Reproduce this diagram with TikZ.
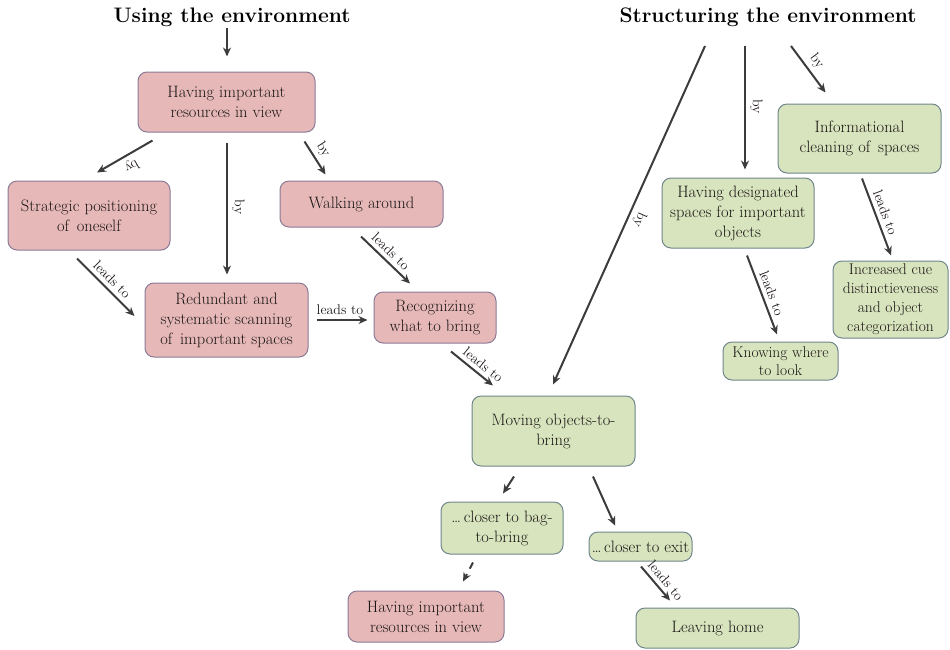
\documentclass[tikz,border=0pt]{standalone}
\usepackage{fontspec}
\usetikzlibrary{arrows.meta,calc}
\definecolor{pinkfill}{RGB}{230,185,184}
\definecolor{pinkdraw}{RGB}{140,122,150}
\definecolor{greenfill}{RGB}{215,228,189}
\definecolor{greendraw}{RGB}{112,134,140}
\definecolor{arrowcol}{RGB}{60,60,60}
\definecolor{txt}{RGB}{28,22,22}
\tikzset{
 box/.style={rounded corners=9pt, line width=1pt, align=center, inner sep=2pt, text=txt, font=\fontsize{16.5}{20}\selectfont},
 pinkbox/.style={box, fill=pinkfill, draw=pinkdraw},
 greenbox/.style={box, fill=greenfill, draw=greendraw},
 arr/.style={draw=arrowcol, line width=2pt, -{Stealth[length=9pt,width=8pt]}},
 lab/.style={font=\fontsize{14}{16}\selectfont, text=txt, sloped, allow upside down, above=3pt, inner sep=1pt},
 maintitle/.style={font=\bfseries\fontsize{21}{25}\selectfont, text=black}
}
\begin{document}
\begin{tikzpicture}[x=1pt,y=-1pt]
\useasboundingbox (0,0) rectangle (950,649);
% titles
\node[maintitle] (t1) at (232,17) {Using the environment};
\node[maintitle] (t2) at (768,17) {Structuring the environment};
% pink boxes
\node[pinkbox, minimum width=177pt, minimum height=60pt] (top) at (226.5,102) {Having important\\resources in view};
\node[pinkbox, minimum width=162pt, minimum height=69pt] (strat) at (89,215.5) {Strategic positioning\\of\, oneself};
\node[pinkbox, minimum width=163pt, minimum height=46pt] (walk) at (361.5,204) {Walking around};
\node[pinkbox, minimum width=163pt, minimum height=74pt] (redund) at (226.5,320) {Redundant and\\systematic scanning\\of\, important spaces};
\node[pinkbox, minimum width=122pt, minimum height=51pt] (recog) at (435,317.5) {Recognizing\\what to bring};
\node[pinkbox, minimum width=156pt, minimum height=51pt] (top2) at (426,616.5) {Having important\\resources in view};
% green boxes
\node[greenbox, minimum width=163pt, minimum height=70pt] (moving) at (553.5,431) {Moving objects-to-\\bring};
\node[greenbox, minimum width=122pt, minimum height=52pt] (bag) at (502,528) {\dots\,closer to bag-\\to-bring};
\node[greenbox, minimum width=103pt, minimum height=29pt] (exit) at (640.5,546.5) {\dots\,closer to exit};
\node[greenbox, minimum width=163pt, minimum height=40pt] (leave) at (717.5,628) {Leaving home};
\node[greenbox, minimum width=163pt, minimum height=69pt] (info) at (859.5,138.5) {Informational\\cleaning of\, spaces};
\node[greenbox, minimum width=152pt, minimum height=70pt] (desig) at (738,213) {Having designated\\spaces for important\\objects};
\node[greenbox, minimum width=115pt, minimum height=77pt, font=\fontsize{15.5}{19}\selectfont] (incr) at (890.5,299.5) {Increased cue\\distinctieveness\\and object\\categorization};
\node[greenbox, minimum width=115pt, minimum height=38pt, font=\fontsize{15.5}{18}\selectfont] (know) at (780.5,361) {Knowing where\\to look};
% connectors
\draw[arr] ($(t1.center)+(-5,11)$) -- ($(top.north)+(0.5,-15)$);
\draw[arr] ($(top.south west)+(15,8)$) -- node[lab,pos=.48]{by} ($(strat.north)+(8,-8)$);
\draw[arr] ($(top.south)+(0.5,10)$) -- node[lab,pos=.49]{by} ($(redund.north)+(0.5,-8)$);
\draw[arr] ($(top.south east)+(-11,9)$) -- node[lab,pos=.43]{by} ($(walk.north west)+(46,-6)$);
\draw[arr] ($(strat.south)+(-12,8)$) -- node[lab,pos=.49]{leads to} ($(redund.west)+(-10,-4)$);
\draw[arr] ($(walk.south)+(-0.5,9)$) -- node[lab,pos=.47]{leads to} ($(recog.north)+(-25,-8)$);
\draw[arr] ($(redund.east)+(8,0)$) -- node[lab,pos=.46]{leads to} ($(recog.west)+(-6,2.5)$);
\draw[arr] ($(recog.south)+(16,8)$) -- node[lab,pos=.62]{leads to} ($(moving.north)+(-60.5,-10)$);
\draw[arr] ($(t2.center)+(-63,29)$) -- node[lab,pos=.5]{by} ($(moving.north)+(-0.5,-11)$);
\draw[arr] ($(t2.center)+(-23,29)$) -- node[lab,pos=.49]{by} ($(desig.north)+(7,-8)$);
\draw[arr] ($(t2.center)+(23,29)$) -- node[lab,pos=.48]{by} ($(info.north west)+(48,-11)$);
\draw[arr] ($(info.south)+(2.5,5)$) -- node[lab,pos=.49]{leads to} ($(incr.north)+(0.5,-5)$);
\draw[arr] ($(desig.south)+(9,7)$) -- node[lab,pos=.52]{leads to} ($(know.north)+(-3.5,-7)$);
\draw[arr] ($(moving.south)+(-39.5,10)$) -- ($(bag.north)+(1,-8)$);
\draw[arr] ($(moving.south)+(39.5,10)$) -- ($(exit.north)+(-25.5,-6)$);
\draw[arr, dash pattern=on 7pt off 6pt] ($(bag.south)+(-29,8)$) -- ($(top2.north)+(37,-9)$);
\draw[arr] ($(exit.south)+(0.5,5)$) -- node[lab,pos=.6]{leads to} ($(leave.north)+(-47.5,-7)$);
\end{tikzpicture}
\end{document}
